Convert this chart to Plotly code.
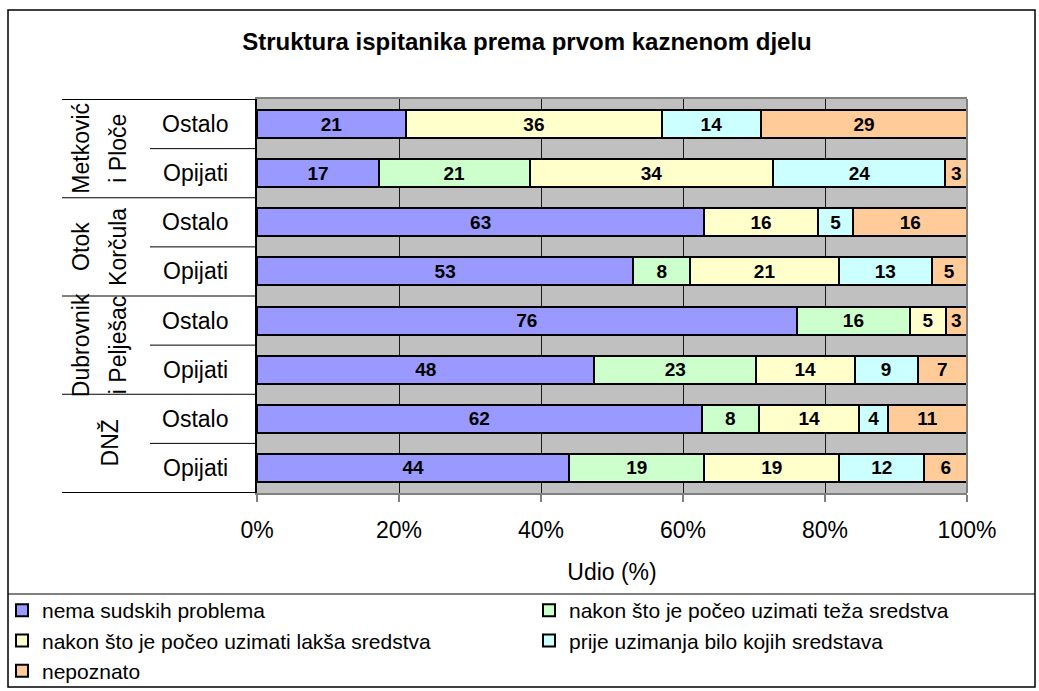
import plotly.graph_objects as go

# ---------------- data ----------------
region_lines = [["Metković", "i Ploče"], ["Otok", "Korčula"], ["Dubrovnik", "i Pelješac"], ["DNŽ"]]
subcats = ["Ostalo", "Opijati"]

series_names = [
    "nema sudskih problema",
    "nakon što je počeo uzimati teža sredstva",
    "nakon što je počeo uzimati lakša sredstva",
    "prije uzimanja bilo kojih sredstava",
    "nepoznato",
]
# rows (top to bottom): Metković Ostalo, Metković Opijati, Korčula Ostalo, Korčula Opijati,
# Dubrovnik Ostalo, Dubrovnik Opijati, DNŽ Ostalo, DNŽ Opijati
nema = [21, 17, 63, 53, 76, 48, 62, 44]
teza = [None, 21, None, 8, 16, 23, 8, 19]
laksa = [36, 34, 16, 21, 5, 14, 14, 19]
prije = [14, 24, 5, 13, None, 9, 4, 12]
nepoznato = [29, 3, 16, 5, 3, 7, 11, 6]
series_values = [nema, teza, laksa, prije, nepoznato]

colors = ["#9999FF", "#CCFFCC", "#FFFFCC", "#CCFFFF", "#FFCC99"]
legend_ids = ["legend", "legend2", "legend", "legend2", "legend"]

x_ticks = [0, 20, 40, 60, 80, 100]
x_tick_text = ["0%", "20%", "40%", "60%", "80%", "100%"]

# ---------------- geometry helpers (pixel -> paper) ----------------
W, H = 1039, 691
ML, MR, MT, MB = 257, 72, 99, 198
PW, PH = W - ML - MR, H - MT - MB


def px(x):
    return (x - ML) / PW


def py(y):
    return (H - MB - y) / PH


FONT = "Liberation Sans, Arial, sans-serif"

rows = [f"{' '.join(r)} | {s}" for r in region_lines for s in subcats]

fig = go.Figure()
for name, vals, col, lg in zip(series_names, series_values, colors, legend_ids):
    fig.add_trace(go.Bar(
        y=rows, x=vals, name=name, orientation="h",
        marker=dict(color=col, line=dict(color="black", width=2)),
        text=vals, texttemplate="%{text}", textposition="inside",
        insidetextanchor="middle", textangle=0,
        textfont=dict(family=FONT, size=19, color="black", weight="bold"),
        legend=lg, hoverinfo="skip",
    ))

annotations = []
# sub-category labels
for r in rows:
    annotations.append(dict(
        x=px(195), xref="paper", y=r, yref="y", text=r.split(" | ")[1],
        showarrow=False, xanchor="center", yanchor="middle",
        font=dict(family=FONT, size=23, color="black"),
    ))
# group labels (rotated)
for g, lines in enumerate(region_lines):
    xs = [81, 118] if len(lines) == 2 else [110]
    for t, xx in zip(lines, xs):
        annotations.append(dict(
            x=px(xx), xref="paper", y=2 * g + 0.5, yref="y", text=t,
            textangle=-90, showarrow=False, xanchor="center", yanchor="middle",
            font=dict(family=FONT, size=23, color="black"),
        ))

shapes = []
# group dividers
for k in range(len(region_lines) + 1):
    shapes.append(dict(type="line", xref="paper", yref="y", x0=px(62), x1=0,
                       y0=2 * k - 0.5, y1=2 * k - 0.5, line=dict(color="black", width=1)))
# sub dividers
for k in range(len(region_lines)):
    shapes.append(dict(type="line", xref="paper", yref="y", x0=px(150), x1=0,
                       y0=2 * k + 0.5, y1=2 * k + 0.5, line=dict(color="black", width=1)))
# right plot border (grey)
shapes.append(dict(type="line", xref="paper", yref="paper", x0=1, x1=1, y0=0, y1=1,
                   line=dict(color="#808080", width=2)))
# legend top line
shapes.append(dict(type="line", xref="paper", yref="paper", x0=px(8), x1=px(1035),
                   y0=py(594), y1=py(594), line=dict(color="#808080", width=2)))
# outer border
shapes.append(dict(type="rect", xref="paper", yref="paper", x0=px(8), x1=px(1035),
                   y0=py(687), y1=py(10), line=dict(color="black", width=1.5)))

fig.update_layout(
    width=W, height=H,
    margin=dict(l=ML, r=MR, t=MT, b=MB, autoexpand=False),
    barmode="stack", barnorm="percent", bargap=0.43,
    plot_bgcolor="#C0C0C0", paper_bgcolor="white",
    font=dict(family=FONT, color="black"),
    title=dict(text="<b>Struktura ispitanika prema prvom kaznenom djelu</b>",
               x=527 / W, xref="container", xanchor="center",
               y=1 - 42 / H, yref="container", yanchor="middle",
               font=dict(family=FONT, size=24, color="black")),
    xaxis=dict(range=[0, 100], tickmode="array", tickvals=x_ticks, ticktext=x_tick_text,
               tickfont=dict(family=FONT, size=23, color="black"),
               showgrid=True, gridcolor="#1a1a1a", gridwidth=1, zeroline=False,
               showline=True, linecolor="#808080", linewidth=2, mirror=True,
               ticks="outside", ticklen=7, tickcolor="#808080", tickwidth=2,
               ticklabelstandoff=8,
               title=dict(text="Udio (%)", font=dict(family=FONT, size=23, color="black"),
                          standoff=22)),
    yaxis=dict(autorange="reversed", showticklabels=False, showgrid=False,
               showline=True, linecolor="black", linewidth=2, ticks="", zeroline=False),
    legend=dict(x=px(2), xanchor="left", y=py(590), yanchor="top",
                orientation="v", traceorder="normal", bgcolor="rgba(0,0,0,0)",
                font=dict(family=FONT, size=21, color="black"), itemwidth=30),
    legend2=dict(x=px(529), xanchor="left", y=py(590), yanchor="top",
                 orientation="v", traceorder="normal", bgcolor="rgba(0,0,0,0)",
                 font=dict(family=FONT, size=21, color="black"), itemwidth=30),
    annotations=annotations,
    shapes=shapes,
    showlegend=True,
)

fig.write_html("out.html", config={"displayModeBar": False},
               post_script="document.body.style.margin='0';")
